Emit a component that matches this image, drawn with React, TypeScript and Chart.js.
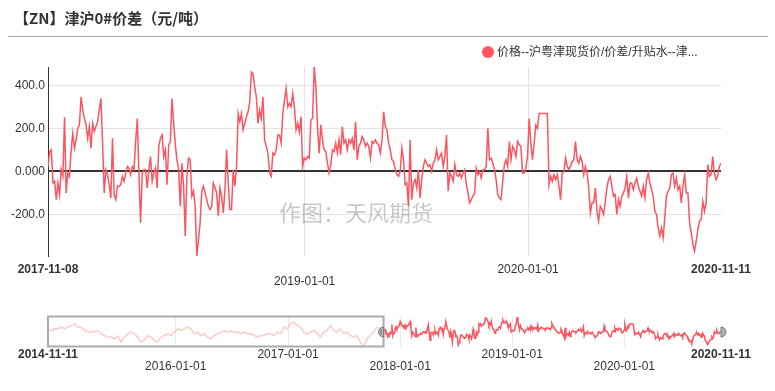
import React, { useEffect, useRef } from 'react';
import { Chart, registerables } from 'chart.js';

Chart.register(...registerables);

// ---------- text ----------
const TITLE = '【ZN】津沪0#价差（元/吨）';
const SERIES_NAME = '价格--沪粤津现货价/价差/升贴水--津...';
const WATERMARK = '作图：天风期货';

// ---------- dates / ticks ----------
const HISTORY_START = '2014-11-11';
const VIEW_START = '2017-11-08';
const VIEW_END = '2020-11-11';

const MAIN_X_TICKS = ['2017-11-08', '2019-01-01', '2020-01-01', '2020-11-11'];
const SLIDER_X_TICKS = ['2014-11-11', '2016-01-01', '2017-01-01', '2018-01-01', '2019-01-01', '2020-01-01', '2020-11-11'];
const Y_TICKS = [400, 200, 0, -200];
const Y_TICK_LABELS = ['400.0', '200.0', '0.000', '-200.0'];

// ---------- values (元/吨), evenly spaced in time ----------
// 2017-11-08 .. ~2018-07
const SPREAD_2017_11_TO_2018_07 = [
  23, 92, 100, -54, -46, -131, -54, -108, 8, -23, 251, -100, -8, -23, 100, 177, 108, 146, 200, 216,
  346, 285, 246, 216, 154, 208, 108, 223, 185, 208, 231, 285, 339, 131, -100, 8, -15, -62, -123, 154,
  -108, -131, -69, -69, -62, -23, -46, -8, 23, 15, -15, 23, 8, 139, 246, -15, -239, -8, 8, 8,
  -77, 8, 69, -46, -8, 15, -77, 116, 154, 169, 69, 100, -62, 123, 139, 339, 223, 123, 54, 8,
  -162, 38, -69, -300, -23, 62, 54, -115, -92, -162, -393,
];
// ~2018-07 .. ~2019-05
const SPREAD_2018_07_TO_2019_05 = [
  -316, -239, -92, -69, -100, -131, -162, -177, -162, -54, -77, -100, -208, -77, -115, -193, -85, 100, -54, -177,
  -177, 8, -69, 15, 269, 231, 269, 193, 223, 254, 277, 323, 462, 454, 393, 346, 223, 285, 246, 346,
  146, 116, 85, -8, -23, 85, 77, 100, 169, 169, 131, 269, 331, 385, 300, 316, 300, 362, 300, 193,
  223, 185, 254, 23, 62, 54, 69, 62, 239, 246, 485, 393, 208, 85, 216, 146, 100, 92, 38, -8,
  31, 100, 92, 131, 85, 146, 77, 208, 131, 146, 100, 146, 131, 154, 100, 231, 54, 116, 131, 162,
  146, 116, 131, 116, 62, 139, 131, 146, 131,
];
// ~2019-05 .. ~2020-03
const SPREAD_2019_05_TO_2020_03 = [
  123, 85, 146, 277, 208, 193, 131, 100, 54, 46, 8, -15, -23, 0, 108, 54, -62, -54, -162, 146,
  -131, -54, -38, -77, 8, -123, -38, 23, 54, 38, 23, 31, 0, 38, 54, 100, 54, 69, 85, 23,
  69, 169, -92, -8, -23, -46, 31, -15, -23, -8, -31, -8, 8, -62, -100, -146, -131, -115, -100, 15,
  -15, 0, -31, 8, 8, 23, 200, 54, 62, 38, 8, -38, -108, -123, -131, -46, 31, 54, 23, 139,
  54, 116, 100, 69, 139, 123, 116, -8, -8, 15, 69, 246, 131, 54, 131, 216, 200, 269, 269, 269,
  269, 269, 269, -62, -23, -46, -15, -38, -15, -69, -131, -8, 0, 62, 23, 8,
];
// ~2020-03 .. 2020-11-11
const SPREAD_2020_03_TO_2020_11 = [
  23, 46, 54, 139, 54, 38, 69, 46, -15, 23, -8, -77, -193, -146, -146, -77, -185, -231, -162, -177,
  -200, -139, -77, -38, -23, -69, -115, -108, -200, -131, -162, -115, -100, -77, -23, -123, -54, -54, -85, -54,
  -31, -69, -92, -115, -69, -123, -38, -8, -54, -85, -115, -185, -200, -262, -300, -262, -308, -216, -115, -92,
  -77, -15, -8, -69, -31, -85, -69, -146, -69, -15, -100, -100, -239, -285, -339, -370, -323, -270, -231, -223,
  -139, -185, -146, 31, -23, -15, 69, -8, -38, -23, 23, 38,
];

// history shown only in the zoom slider, 2014-11-11 .. 2017-11-07
const HISTORY_2014_11_TO_2015_08 = [
  63, 63, 114, 114, 166, 114, 166, 217, 269, 166, 166, 63, 32, 11, 32, 63, -41, -93, -144, -144, -196, -113, -299, -144,
];
const HISTORY_2015_08_TO_2016_05 = [
  -41, 11, -41, -144, -299, -247, -93, -144, -247, -299, -144, -93, -41, -93, 11, 114, 63, 114, 166, 114, -41, 11, -93, -41, -144, -196,
];
const HISTORY_2016_05_TO_2017_03 = [
  -93, -41, 11, 63, 11, 63, 11, 11, -41, 11, -41, -41, -93, -144, -93, -93, -41, -41, -93, 11, -41, 166, 114, 269, 321, 217,
];
const HISTORY_2017_03_TO_2017_11 = [
  166, 11, -41, 11, 63, -41, -144, 11, 63, 217, 63, 11, 114, -41, 11, -93, -144, -93, -299, -454, -196, -93, 11, 166, 114,
];

// ---------- styles ----------
const RED = '#fb5560';
const FADED = '#ffcaca';
const FONT = '"Liberation Sans", Arial, "Noto Sans CJK SC", sans-serif';
const CJK = '"Noto Sans CJK SC", "Liberation Sans", sans-serif';

const ts = (d: string) => Date.parse(d + 'T00:00:00Z');

function spread(values: number[], start: number, end: number, includeEnd: boolean) {
  const n = values.length;
  const step = (end - start) / (includeEnd ? n - 1 : n);
  return values.map((v, i) => ({ x: start + i * step, y: v }));
}

export default function App() {
  const mainRef = useRef<HTMLCanvasElement | null>(null);
  const sliderRef = useRef<HTMLCanvasElement | null>(null);

  useEffect(() => {
    const mainValues = [
      ...SPREAD_2017_11_TO_2018_07,
      ...SPREAD_2018_07_TO_2019_05,
      ...SPREAD_2019_05_TO_2020_03,
      ...SPREAD_2020_03_TO_2020_11,
    ];
    const historyValues = [
      ...HISTORY_2014_11_TO_2015_08,
      ...HISTORY_2015_08_TO_2016_05,
      ...HISTORY_2016_05_TO_2017_03,
      ...HISTORY_2017_03_TO_2017_11,
    ];
    const tAll = ts(HISTORY_START);
    const tStart = ts(VIEW_START);
    const tEnd = ts(VIEW_END);
    const mainPoints = spread(mainValues, tStart, tEnd, true);
    const historyPoints = [...spread(historyValues, tAll, tStart, false), mainPoints[0]];

    const mainMin = Math.min(...mainValues);
    const mainMax = Math.max(...mainValues);
    const allMin = Math.min(mainMin, ...historyValues);
    const allMax = Math.max(mainMax, ...historyValues);

    const watermark = {
      id: 'watermark',
      beforeDatasetsDraw(chart: any) {
        const { ctx } = chart;
        ctx.save();
        ctx.font = '22px ' + CJK;
        ctx.fillStyle = 'rgba(0,0,0,0.22)';
        ctx.textAlign = 'center';
        ctx.textBaseline = 'middle';
        ctx.fillText(WATERMARK, 356, 213);
        ctx.restore();
      },
    };

    const main = new Chart(mainRef.current as HTMLCanvasElement, {
      type: 'line',
      data: {
        datasets: [
          {
            label: SERIES_NAME,
            data: mainPoints,
            borderColor: RED,
            backgroundColor: RED,
            borderWidth: 1.5,
            pointRadius: 0,
            tension: 0,
            fill: false,
          },
        ],
      },
      options: {
        animation: false,
        responsive: false,
        devicePixelRatio: 1,
        events: [],
        layout: { padding: { left: 0, right: 54, top: 67, bottom: 0 } },
        plugins: { legend: { display: false }, tooltip: { enabled: false } },
        scales: {
          x: {
            type: 'linear',
            bounds: 'data',
            min: tStart,
            max: tEnd,
            afterBuildTicks: (s: any) => {
              s.ticks = MAIN_X_TICKS.map((d) => ({ value: ts(d) }));
            },
            afterFit: (s: any) => {
              s.height = 44;
            },
            ticks: {
              autoSkip: false,
              maxRotation: 0,
              minRotation: 0,
              padding: 7,
              color: '#333',
              font: (c: any) => ({
                family: FONT,
                size: 12,
                lineHeight: 1.05,
                weight: c.index === 0 || c.index === MAIN_X_TICKS.length - 1 ? 'bold' : 'normal',
              }),
              callback: (_v: any, i: number) => (i === 1 ? ['', MAIN_X_TICKS[i]] : MAIN_X_TICKS[i]),
            },
            grid: {
              drawTicks: false,
              color: (c: any) => (c.index === 1 || c.index === 2 ? '#e3e3e3' : 'rgba(0,0,0,0)'),
              lineWidth: 1,
            },
            border: { display: false },
          },
          y: {
            type: 'linear',
            bounds: 'data',
            min: mainMin,
            max: mainMax,
            afterBuildTicks: (s: any) => {
              s.ticks = Y_TICKS.map((v) => ({ value: v }));
            },
            afterFit: (s: any) => {
              s.width = 48;
            },
            ticks: {
              padding: 3,
              color: '#333',
              font: { family: FONT, size: 12 },
              callback: (v: any) => Y_TICK_LABELS[Y_TICKS.indexOf(Number(v))],
            },
            grid: {
              drawTicks: false,
              color: (c: any) => (c.tick && c.tick.value === 0 ? '#333' : '#e3e3e3'),
              lineWidth: (c: any) => (c.tick && c.tick.value === 0 ? 2 : 1),
            },
            border: { display: true, color: '#333', width: 1 },
          },
        },
      } as any,
      plugins: [watermark],
    });

    const sliderDecor = {
      id: 'sliderDecor',
      afterDatasetsDraw(chart: any) {
        const { ctx, chartArea } = chart;
        const xs = chart.scales.x;
        const left = xs.getPixelForValue(tAll);
        const right = xs.getPixelForValue(tStart);
        const endX = xs.getPixelForValue(tEnd);
        const top = chartArea.top - 0.5;
        const bottom = chartArea.bottom - 0.5;
        const midY = (chartArea.top + chartArea.bottom) / 2;
        ctx.save();
        ctx.strokeStyle = '#ababab';
        ctx.lineWidth = 2;
        ctx.strokeRect(left, top, right - left, bottom - top);
        // left handle
        ctx.beginPath();
        ctx.moveTo(right, midY - 5);
        ctx.arc(right, midY, 5, -Math.PI / 2, Math.PI / 2, true);
        ctx.closePath();
        ctx.fillStyle = '#b8b8b8';
        ctx.fill();
        ctx.lineWidth = 1;
        ctx.strokeStyle = '#7a7a7a';
        ctx.stroke();
        ctx.beginPath();
        ctx.moveTo(right - 2.5, midY - 3);
        ctx.lineTo(right - 2.5, midY + 3);
        ctx.stroke();
        // right handle
        ctx.beginPath();
        ctx.moveTo(endX, midY - 5);
        ctx.arc(endX, midY, 5, -Math.PI / 2, Math.PI / 2, false);
        ctx.closePath();
        ctx.fillStyle = '#b0b0b0';
        ctx.fill();
        ctx.strokeStyle = '#7a7a7a';
        ctx.stroke();
        ctx.restore();
      },
    };

    const lowerRow = (i: number) => i % 2 === 1;

    const slider = new Chart(sliderRef.current as HTMLCanvasElement, {
      type: 'line',
      data: {
        datasets: [
          {
            label: 'history',
            data: historyPoints,
            borderColor: FADED,
            borderWidth: 1.5,
            pointRadius: 0,
            tension: 0,
            fill: false,
          },
          {
            label: SERIES_NAME,
            data: mainPoints,
            borderColor: RED,
            borderWidth: 1.5,
            pointRadius: 0,
            tension: 0,
            fill: false,
          },
        ],
      },
      options: {
        animation: false,
        responsive: false,
        devicePixelRatio: 1,
        events: [],
        layout: { padding: { left: 48, right: 54, top: 17, bottom: 0 } },
        plugins: { legend: { display: false }, tooltip: { enabled: false } },
        scales: {
          x: {
            type: 'linear',
            bounds: 'data',
            min: tAll,
            max: tEnd,
            afterBuildTicks: (s: any) => {
              s.ticks = SLIDER_X_TICKS.map((d) => ({ value: ts(d) }));
            },
            afterFit: (s: any) => {
              s.height = 44;
            },
            ticks: {
              autoSkip: false,
              maxRotation: 0,
              minRotation: 0,
              padding: 1,
              color: '#333',
              font: (c: any) => ({
                family: FONT,
                size: 12,
                lineHeight: 1.05,
                weight: c.index === 0 || c.index === SLIDER_X_TICKS.length - 1 ? 'bold' : 'normal',
              }),
              callback: (_v: any, i: number) => (lowerRow(i) ? ['', SLIDER_X_TICKS[i]] : SLIDER_X_TICKS[i]),
            },
            grid: {
              drawTicks: false,
              color: (c: any) =>
                c.index === 0 || c.index === SLIDER_X_TICKS.length - 1 ? 'rgba(0,0,0,0)' : '#e8e8e8',
              lineWidth: 1,
            },
            border: { display: false },
          },
          y: {
            type: 'linear',
            display: false,
            bounds: 'data',
            min: allMin,
            max: allMax,
          },
        },
      } as any,
      plugins: [sliderDecor],
    });

    return () => {
      main.destroy();
      slider.destroy();
    };
  }, []);

  return (
    <div
      style={{
        position: 'absolute',
        left: 0,
        top: 0,
        width: 775,
        height: 391,
        background: '#fff',
        overflow: 'hidden',
      }}
    >
      <canvas
        ref={mainRef}
        width={775}
        height={300}
        style={{ position: 'absolute', left: 0, top: 0, width: 775, height: 300, display: 'block' }}
      />
      <canvas
        ref={sliderRef}
        width={775}
        height={91}
        style={{ position: 'absolute', left: 0, top: 300, width: 775, height: 91, display: 'block' }}
      />
      <div
        style={{
          position: 'absolute',
          left: 14,
          top: 8,
          fontFamily: CJK,
          fontSize: 15,
          fontWeight: 'bold',
          lineHeight: '20px',
          color: '#333',
          whiteSpace: 'nowrap',
        }}
      >
        {TITLE}
      </div>
      <div style={{ position: 'absolute', left: 8, top: 36, width: 760, height: 1, background: '#aaa' }} />
      <div
        style={{
          position: 'absolute',
          left: 482,
          top: 46,
          width: 12,
          height: 12,
          borderRadius: '50%',
          background: RED,
        }}
      />
      <div
        style={{
          position: 'absolute',
          left: 497,
          top: 44,
          fontFamily: FONT,
          fontSize: 12,
          lineHeight: '16px',
          color: '#333',
          whiteSpace: 'nowrap',
        }}
      >
        {SERIES_NAME}
      </div>
    </div>
  );
}
